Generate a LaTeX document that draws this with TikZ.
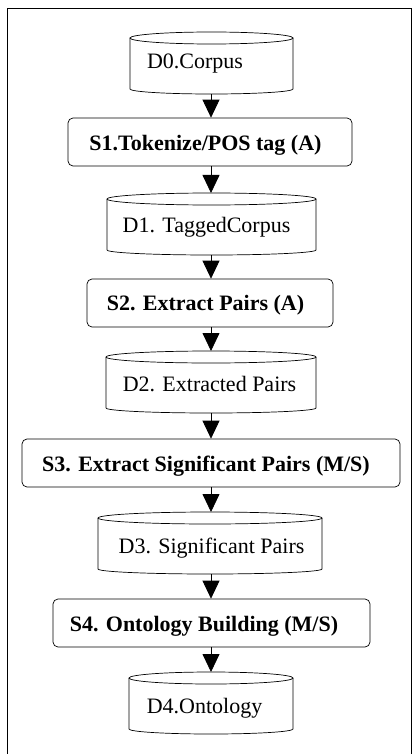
\documentclass[tikz,border=0pt]{standalone}
\usepackage{fontspec}
\setmainfont{Liberation Serif}
\usetikzlibrary{arrows.meta}
\tikzset{
  stepbox/.style={draw, rounded corners=5pt, line width=0.7pt, inner sep=0pt, minimum height=48pt},
  dbnode/.style={inner sep=0pt, minimum height=62pt},
  dblabel/.style={font=\fontsize{22}{26}\selectfont, anchor=base, inner sep=0pt},
  steplabel/.style={font=\fontsize{22}{26}\selectfont\bfseries, anchor=base, inner sep=0pt},
  arr/.style={line width=0.8pt, -{Triangle[width=17pt,length=18pt]}},
  cylline/.style={line width=0.7pt},
  framel/.style={line width=1pt},
}
\newcommand{\dbcyl}[4]{%
  \node[dbnode, minimum width={2*#4pt}, anchor=north] (#1) at (#2,-#3) {};
  \draw[cylline] (#2,-#3-6) circle[x radius=#4pt, y radius=6pt];
  \draw[cylline] (#2-#4,-#3-6) -- (#2-#4,-#3-57) arc[start angle=180,end angle=360,x radius=#4pt,y radius=5pt] -- (#2+#4,-#3-6);
}
\begin{document}
\begin{tikzpicture}[x=1pt,y=1pt]
\useasboundingbox (0,0) rectangle (412,-754);
\draw[framel] (7,-754) -- (7,-9) -- (411,-9) -- (411,-754);

\dbcyl{d0}{211.5}{32}{81.5}
\node[dblabel] (d0t) at (195,-69) {D0.Corpus};

\node[stepbox, minimum width=284pt] (s1) at (210,-142) {};
\node[steplabel] (s1t) at (205.5,-150) {S1.Tokenize/POS tag (A)};

\dbcyl{d1}{211.5}{193}{104.5}
\node[dblabel] (d1t) at (206.5,-232) {D1. TaggedCorpus};

\node[stepbox, minimum width=246pt] (s2) at (210,-303) {};
\node[steplabel] (s2t) at (205.5,-310) {S2. Extract Pairs (A)};

\dbcyl{d2}{211}{351}{105}
\node[dblabel] (d2t) at (209.5,-391) {D2. Extracted Pairs};

\node[stepbox, minimum width=378pt] (s3) at (211,-463) {};
\node[steplabel] (s3t) at (206,-471) {S3. Extract Significant Pairs (M/S)};

\dbcyl{d3}{210}{512}{112}
\node[dblabel] (d3t) at (211.5,-553) {D3. Significant Pairs};

\node[stepbox, minimum width=317pt] (s4) at (211.5,-623) {};
\node[steplabel] (s4t) at (204,-631) {S4. Ontology Building (M/S)};

\dbcyl{d4}{211}{672}{82}
\node[dblabel] (d4t) at (204.5,-713) {D4.Ontology};

\coordinate (ax) at (211,0);
\draw[arr] (d0.south -| ax) -- (s1.north -| ax);
\draw[arr] (s1.south -| ax) -- (d1.north -| ax);
\draw[arr] (d1.south -| ax) -- (s2.north -| ax);
\draw[arr] (s2.south -| ax) -- (d2.north -| ax);
\draw[arr] (d2.south -| ax) -- (s3.north -| ax);
\draw[arr] (s3.south -| ax) -- (d3.north -| ax);
\draw[arr] (d3.south -| ax) -- (s4.north -| ax);
\draw[arr] (s4.south -| ax) -- (d4.north -| ax);
\end{tikzpicture}
\end{document}
